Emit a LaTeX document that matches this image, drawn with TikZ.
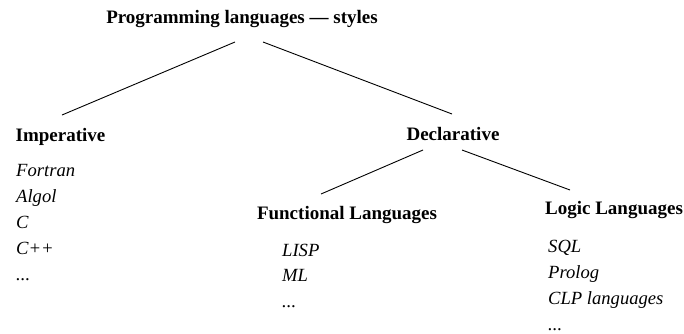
\documentclass[tikz,border=0pt]{standalone}
\usepackage{fontspec}
\setmainfont{Liberation Serif}
\usepackage{tikz}
\tikzset{
    every node/.style={inner sep=0pt,},
    heading/.style={anchor=base,font=\fontsize{19}{22}\selectfont\bfseries,},
    lang/.style={anchor=base west,font=\fontsize{18.6}{22}\selectfont\itshape,},
    branch/.style={line width=0.9pt,},
}
\newcommand{\moredots}{...}

\begin{document}
\begin{tikzpicture}[x=1pt,y=-1pt]
                \useasboundingbox (0,0) rectangle (684,333);

                \node[heading] (title) at (242, 23) {Programming languages --- styles};

                \node[heading] (imperative) at (60.5, 141) {Imperative};
                \node[heading] (declarative) at (453, 140) {Declarative};

                \node[heading] (functional) at (347, 219) {Functional Languages};
                \node[heading] (logic) at (614, 214) {Logic Languages};

                % example languages under each style
                \foreach \name [count=\i] in {Fortran, Algol, C, C++, \moredots}
                    \node[lang] (imp\i) at (16, 150+26*\i) {\name};
                \foreach \name [count=\i] in {LISP, ML, \moredots}
                    \node[lang] (fun\i) at (282, 230.5+25.5*\i) {\name};
                \foreach \name [count=\i] in {SQL, Prolog, CLP languages, \moredots}
                    \node[lang] (log\i) at (548, 226+26*\i) {\name};

                \draw[branch] ([xshift=-7pt,yshift=-19pt]title.base) to ([xshift=1.5pt,yshift=26pt]imperative.base);
                \draw[branch] ([xshift=21pt,yshift=-19pt]title.base) to ([xshift=-1pt,yshift=26pt]declarative.base);

                \draw[branch] ([xshift=-30pt,yshift=-10pt]declarative.base) to ([xshift=-26pt,yshift=25pt]functional.base);
                \draw[branch] ([xshift=9pt,yshift=-10pt]declarative.base) to ([xshift=-44pt,yshift=24pt]logic.base);
            \end{tikzpicture}
\end{document}
